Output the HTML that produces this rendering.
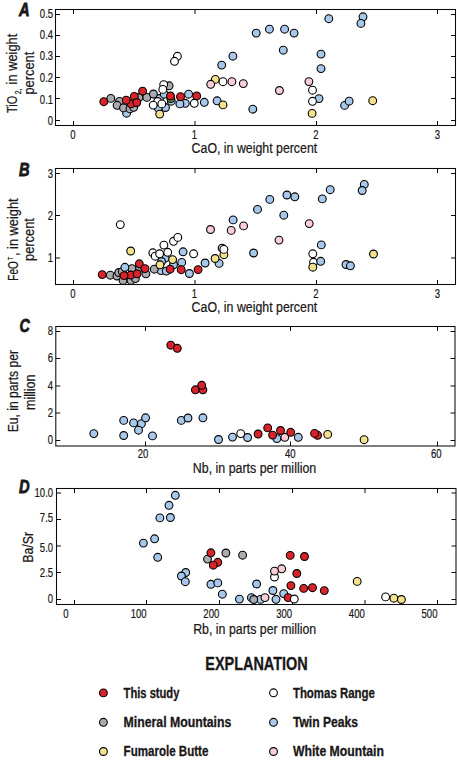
<!DOCTYPE html>
<html><head><meta charset="utf-8"><style>
html,body{margin:0;padding:0;background:#fff;width:457px;height:781px;overflow:hidden}
svg{display:block}
text{font-family:"Liberation Sans", sans-serif;fill:#1a1718;stroke:#1a1718;stroke-width:0.22px}
</style></head><body>
<svg width="457" height="781" viewBox="0 0 457 781">
<rect x="55.5" y="9.5" width="400.0" height="116.0" fill="none" stroke="#0a0a0a" stroke-width="1.05"/>
<path d="M55.5 14.5h4.5M455.5 14.5h-4.5M55.5 35.5h4.5M455.5 35.5h-4.5M55.5 56.5h4.5M455.5 56.5h-4.5M55.5 77.5h4.5M455.5 77.5h-4.5M55.5 98.5h4.5M455.5 98.5h-4.5M55.5 120.5h4.5M455.5 120.5h-4.5" stroke="#0a0a0a" stroke-width="1.0" fill="none"/>
<path d="M73.5 125.5v-4.5M73.5 9.5v4.5M195.0 125.5v-4.5M195.0 9.5v4.5M316.5 125.5v-4.5M316.5 9.5v4.5M437.5 125.5v-4.5M437.5 9.5v4.5" stroke="#0a0a0a" stroke-width="1.0" fill="none"/>
<circle cx="126.6" cy="113.2" r="3.9" fill="#a7c8ea" stroke="#000" stroke-width="1.1"/>
<circle cx="159.4" cy="98.5" r="3.9" fill="#a7c8ea" stroke="#000" stroke-width="1.1"/>
<circle cx="164.3" cy="94.2" r="3.9" fill="#a7c8ea" stroke="#000" stroke-width="1.1"/>
<circle cx="165.5" cy="107.5" r="3.9" fill="#a7c8ea" stroke="#000" stroke-width="1.1"/>
<circle cx="158.2" cy="108.1" r="3.9" fill="#a7c8ea" stroke="#000" stroke-width="1.1"/>
<circle cx="171.3" cy="101.2" r="3.9" fill="#a7c8ea" stroke="#000" stroke-width="1.1"/>
<circle cx="185.3" cy="103.3" r="3.9" fill="#a7c8ea" stroke="#000" stroke-width="1.1"/>
<circle cx="179.9" cy="103.9" r="3.9" fill="#a7c8ea" stroke="#000" stroke-width="1.1"/>
<circle cx="188.6" cy="94.2" r="3.9" fill="#a7c8ea" stroke="#000" stroke-width="1.1"/>
<circle cx="204.3" cy="102.3" r="3.9" fill="#a7c8ea" stroke="#000" stroke-width="1.1"/>
<circle cx="217.1" cy="100.8" r="3.9" fill="#a7c8ea" stroke="#000" stroke-width="1.1"/>
<circle cx="221.7" cy="65.1" r="3.9" fill="#a7c8ea" stroke="#000" stroke-width="1.1"/>
<circle cx="232.9" cy="56.2" r="3.9" fill="#a7c8ea" stroke="#000" stroke-width="1.1"/>
<circle cx="252.8" cy="109.2" r="3.9" fill="#a7c8ea" stroke="#000" stroke-width="1.1"/>
<circle cx="256.2" cy="33.1" r="3.9" fill="#a7c8ea" stroke="#000" stroke-width="1.1"/>
<circle cx="269.4" cy="29.2" r="3.9" fill="#a7c8ea" stroke="#000" stroke-width="1.1"/>
<circle cx="284.6" cy="29.2" r="3.9" fill="#a7c8ea" stroke="#000" stroke-width="1.1"/>
<circle cx="294.1" cy="33.1" r="3.9" fill="#a7c8ea" stroke="#000" stroke-width="1.1"/>
<circle cx="283.3" cy="50.2" r="3.9" fill="#a7c8ea" stroke="#000" stroke-width="1.1"/>
<circle cx="321" cy="54.1" r="3.9" fill="#a7c8ea" stroke="#000" stroke-width="1.1"/>
<circle cx="321" cy="68.6" r="3.9" fill="#a7c8ea" stroke="#000" stroke-width="1.1"/>
<circle cx="328.8" cy="18.7" r="3.9" fill="#a7c8ea" stroke="#000" stroke-width="1.1"/>
<circle cx="363" cy="16.8" r="3.9" fill="#a7c8ea" stroke="#000" stroke-width="1.1"/>
<circle cx="360.9" cy="23.4" r="3.9" fill="#a7c8ea" stroke="#000" stroke-width="1.1"/>
<circle cx="319" cy="98.6" r="3.9" fill="#a7c8ea" stroke="#000" stroke-width="1.1"/>
<circle cx="344.6" cy="105.4" r="3.9" fill="#a7c8ea" stroke="#000" stroke-width="1.1"/>
<circle cx="349.1" cy="101.2" r="3.9" fill="#a7c8ea" stroke="#000" stroke-width="1.1"/>
<circle cx="170.8" cy="98.5" r="3.9" fill="#6aa84f" stroke="#000" stroke-width="1.1"/>
<circle cx="110.8" cy="98.4" r="3.9" fill="#a9abb0" stroke="#000" stroke-width="1.1"/>
<circle cx="119.5" cy="101.4" r="3.9" fill="#a9abb0" stroke="#000" stroke-width="1.1"/>
<circle cx="117.1" cy="105.3" r="3.9" fill="#a9abb0" stroke="#000" stroke-width="1.1"/>
<circle cx="123.5" cy="107.9" r="3.9" fill="#a9abb0" stroke="#000" stroke-width="1.1"/>
<circle cx="130.0" cy="108.9" r="3.9" fill="#a9abb0" stroke="#000" stroke-width="1.1"/>
<circle cx="133.7" cy="107.3" r="3.9" fill="#a9abb0" stroke="#000" stroke-width="1.1"/>
<circle cx="138.9" cy="97.5" r="3.9" fill="#a9abb0" stroke="#000" stroke-width="1.1"/>
<circle cx="146.8" cy="97.4" r="3.9" fill="#a9abb0" stroke="#000" stroke-width="1.1"/>
<circle cx="153.4" cy="94.0" r="3.9" fill="#a9abb0" stroke="#000" stroke-width="1.1"/>
<circle cx="169.1" cy="85.8" r="3.9" fill="#a9abb0" stroke="#000" stroke-width="1.1"/>
<circle cx="159.7" cy="114.1" r="3.9" fill="#f3e18b" stroke="#000" stroke-width="1.1"/>
<circle cx="215.3" cy="79.4" r="3.9" fill="#f3e18b" stroke="#000" stroke-width="1.1"/>
<circle cx="223" cy="104.9" r="3.9" fill="#f3e18b" stroke="#000" stroke-width="1.1"/>
<circle cx="312.1" cy="113.4" r="3.9" fill="#f3e18b" stroke="#000" stroke-width="1.1"/>
<circle cx="372.7" cy="100.7" r="3.9" fill="#f3e18b" stroke="#000" stroke-width="1.1"/>
<circle cx="210.7" cy="84.3" r="3.9" fill="#f8cdd7" stroke="#000" stroke-width="1.1"/>
<circle cx="231.9" cy="81.7" r="3.9" fill="#f8cdd7" stroke="#000" stroke-width="1.1"/>
<circle cx="243.3" cy="83.6" r="3.9" fill="#f8cdd7" stroke="#000" stroke-width="1.1"/>
<circle cx="279.4" cy="90.5" r="3.9" fill="#f8cdd7" stroke="#000" stroke-width="1.1"/>
<circle cx="308.9" cy="81.6" r="3.9" fill="#f8cdd7" stroke="#000" stroke-width="1.1"/>
<circle cx="103.8" cy="101.7" r="3.9" fill="#d9232b" stroke="#000" stroke-width="1.1"/>
<circle cx="131.2" cy="103.8" r="3.9" fill="#d9232b" stroke="#000" stroke-width="1.1"/>
<circle cx="126.2" cy="100.2" r="3.9" fill="#d9232b" stroke="#000" stroke-width="1.1"/>
<circle cx="134.3" cy="96.4" r="3.9" fill="#d9232b" stroke="#000" stroke-width="1.1"/>
<circle cx="142.6" cy="91.1" r="3.9" fill="#d9232b" stroke="#000" stroke-width="1.1"/>
<circle cx="136.8" cy="102.5" r="3.9" fill="#d9232b" stroke="#000" stroke-width="1.1"/>
<circle cx="170.5" cy="96" r="3.9" fill="#d9232b" stroke="#000" stroke-width="1.1"/>
<circle cx="180.5" cy="96.7" r="3.9" fill="#d9232b" stroke="#000" stroke-width="1.1"/>
<circle cx="196.7" cy="96" r="3.9" fill="#d9232b" stroke="#000" stroke-width="1.1"/>
<circle cx="177.4" cy="56.3" r="3.9" fill="#ffffff" stroke="#000" stroke-width="1.1"/>
<circle cx="174.5" cy="61.3" r="3.9" fill="#ffffff" stroke="#000" stroke-width="1.1"/>
<circle cx="163.7" cy="84.6" r="3.9" fill="#ffffff" stroke="#000" stroke-width="1.1"/>
<circle cx="162.8" cy="89.4" r="3.9" fill="#ffffff" stroke="#000" stroke-width="1.1"/>
<circle cx="157.6" cy="101.5" r="3.9" fill="#ffffff" stroke="#000" stroke-width="1.1"/>
<circle cx="153.2" cy="105.1" r="3.9" fill="#ffffff" stroke="#000" stroke-width="1.1"/>
<circle cx="161.8" cy="103.9" r="3.9" fill="#ffffff" stroke="#000" stroke-width="1.1"/>
<circle cx="194.3" cy="103.3" r="3.9" fill="#ffffff" stroke="#000" stroke-width="1.1"/>
<circle cx="223" cy="81.7" r="3.9" fill="#ffffff" stroke="#000" stroke-width="1.1"/>
<circle cx="312.5" cy="90.2" r="3.9" fill="#ffffff" stroke="#000" stroke-width="1.1"/>
<circle cx="312.5" cy="101.3" r="3.9" fill="#ffffff" stroke="#000" stroke-width="1.1"/>
<rect x="55.5" y="168.5" width="400.0" height="116.0" fill="none" stroke="#0a0a0a" stroke-width="1.05"/>
<path d="M55.5 173.5h4.5M455.5 173.5h-4.5M55.5 215.5h4.5M455.5 215.5h-4.5M55.5 258.0h4.5M455.5 258.0h-4.5" stroke="#0a0a0a" stroke-width="1.0" fill="none"/>
<path d="M73.5 284.5v-4.5M73.5 168.5v4.5M195.0 284.5v-4.5M195.0 168.5v4.5M316.5 284.5v-4.5M316.5 168.5v4.5M437.5 284.5v-4.5M437.5 168.5v4.5" stroke="#0a0a0a" stroke-width="1.0" fill="none"/>
<circle cx="313.5" cy="262.3" r="3.9" fill="#ffffff" stroke="#000" stroke-width="1.1"/>
<circle cx="165.3" cy="258.1" r="3.9" fill="#a7c8ea" stroke="#000" stroke-width="1.1"/>
<circle cx="161.5" cy="261.5" r="3.9" fill="#a7c8ea" stroke="#000" stroke-width="1.1"/>
<circle cx="161" cy="270.6" r="3.9" fill="#a7c8ea" stroke="#000" stroke-width="1.1"/>
<circle cx="173.5" cy="264.8" r="3.9" fill="#a7c8ea" stroke="#000" stroke-width="1.1"/>
<circle cx="166.3" cy="271.1" r="3.9" fill="#a7c8ea" stroke="#000" stroke-width="1.1"/>
<circle cx="181.7" cy="262.4" r="3.9" fill="#a7c8ea" stroke="#000" stroke-width="1.1"/>
<circle cx="183.1" cy="251.8" r="3.9" fill="#a7c8ea" stroke="#000" stroke-width="1.1"/>
<circle cx="189.4" cy="273.5" r="3.9" fill="#a7c8ea" stroke="#000" stroke-width="1.1"/>
<circle cx="205.1" cy="263" r="3.9" fill="#a7c8ea" stroke="#000" stroke-width="1.1"/>
<circle cx="219.1" cy="263.4" r="3.9" fill="#a7c8ea" stroke="#000" stroke-width="1.1"/>
<circle cx="222.1" cy="248.1" r="3.9" fill="#a7c8ea" stroke="#000" stroke-width="1.1"/>
<circle cx="233.1" cy="219.9" r="3.9" fill="#a7c8ea" stroke="#000" stroke-width="1.1"/>
<circle cx="257.5" cy="209.4" r="3.9" fill="#a7c8ea" stroke="#000" stroke-width="1.1"/>
<circle cx="269.8" cy="199.4" r="3.9" fill="#a7c8ea" stroke="#000" stroke-width="1.1"/>
<circle cx="286.9" cy="195" r="3.9" fill="#a7c8ea" stroke="#000" stroke-width="1.1"/>
<circle cx="294.8" cy="196.8" r="3.9" fill="#a7c8ea" stroke="#000" stroke-width="1.1"/>
<circle cx="283.8" cy="215.2" r="3.9" fill="#a7c8ea" stroke="#000" stroke-width="1.1"/>
<circle cx="253.6" cy="253" r="3.9" fill="#a7c8ea" stroke="#000" stroke-width="1.1"/>
<circle cx="330.2" cy="189.7" r="3.9" fill="#a7c8ea" stroke="#000" stroke-width="1.1"/>
<circle cx="322.3" cy="198.9" r="3.9" fill="#a7c8ea" stroke="#000" stroke-width="1.1"/>
<circle cx="364.3" cy="184.4" r="3.9" fill="#a7c8ea" stroke="#000" stroke-width="1.1"/>
<circle cx="362.2" cy="190.5" r="3.9" fill="#a7c8ea" stroke="#000" stroke-width="1.1"/>
<circle cx="321.3" cy="244.9" r="3.9" fill="#a7c8ea" stroke="#000" stroke-width="1.1"/>
<circle cx="320.7" cy="261.3" r="3.9" fill="#a7c8ea" stroke="#000" stroke-width="1.1"/>
<circle cx="346" cy="264.5" r="3.9" fill="#a7c8ea" stroke="#000" stroke-width="1.1"/>
<circle cx="350.4" cy="265.8" r="3.9" fill="#a7c8ea" stroke="#000" stroke-width="1.1"/>
<circle cx="110.3" cy="275.2" r="3.9" fill="#a9abb0" stroke="#000" stroke-width="1.1"/>
<circle cx="117" cy="276" r="3.9" fill="#a9abb0" stroke="#000" stroke-width="1.1"/>
<circle cx="118.8" cy="272.5" r="3.9" fill="#a9abb0" stroke="#000" stroke-width="1.1"/>
<circle cx="122.3" cy="271.6" r="3.9" fill="#a9abb0" stroke="#000" stroke-width="1.1"/>
<circle cx="123.1" cy="280.4" r="3.9" fill="#a9abb0" stroke="#000" stroke-width="1.1"/>
<circle cx="137.5" cy="270.0" r="3.9" fill="#a9abb0" stroke="#000" stroke-width="1.1"/>
<circle cx="131.9" cy="268.6" r="3.9" fill="#a9abb0" stroke="#000" stroke-width="1.1"/>
<circle cx="131" cy="280.4" r="3.9" fill="#a9abb0" stroke="#000" stroke-width="1.1"/>
<circle cx="135.4" cy="278.6" r="3.9" fill="#a9abb0" stroke="#000" stroke-width="1.1"/>
<circle cx="145.9" cy="273.8" r="3.9" fill="#a9abb0" stroke="#000" stroke-width="1.1"/>
<circle cx="154.3" cy="269.2" r="3.9" fill="#a9abb0" stroke="#000" stroke-width="1.1"/>
<circle cx="130.7" cy="251" r="3.9" fill="#f3e18b" stroke="#000" stroke-width="1.1"/>
<circle cx="160" cy="264.8" r="3.9" fill="#f3e18b" stroke="#000" stroke-width="1.1"/>
<circle cx="172.6" cy="259.6" r="3.9" fill="#f3e18b" stroke="#000" stroke-width="1.1"/>
<circle cx="215.1" cy="258.5" r="3.9" fill="#f3e18b" stroke="#000" stroke-width="1.1"/>
<circle cx="223.9" cy="254.7" r="3.9" fill="#f3e18b" stroke="#000" stroke-width="1.1"/>
<circle cx="312.8" cy="267.2" r="3.9" fill="#f3e18b" stroke="#000" stroke-width="1.1"/>
<circle cx="373.5" cy="254" r="3.9" fill="#f3e18b" stroke="#000" stroke-width="1.1"/>
<circle cx="210.5" cy="229.5" r="3.9" fill="#f8cdd7" stroke="#000" stroke-width="1.1"/>
<circle cx="231.2" cy="230.4" r="3.9" fill="#f8cdd7" stroke="#000" stroke-width="1.1"/>
<circle cx="243.6" cy="225.9" r="3.9" fill="#f8cdd7" stroke="#000" stroke-width="1.1"/>
<circle cx="279" cy="240.1" r="3.9" fill="#f8cdd7" stroke="#000" stroke-width="1.1"/>
<circle cx="309.2" cy="223.6" r="3.9" fill="#f8cdd7" stroke="#000" stroke-width="1.1"/>
<circle cx="102.2" cy="274.6" r="3.9" fill="#d9232b" stroke="#000" stroke-width="1.1"/>
<circle cx="130.8" cy="275.0" r="3.9" fill="#d9232b" stroke="#000" stroke-width="1.1"/>
<circle cx="124" cy="275.6" r="3.9" fill="#d9232b" stroke="#000" stroke-width="1.1"/>
<circle cx="137.1" cy="273.8" r="3.9" fill="#d9232b" stroke="#000" stroke-width="1.1"/>
<circle cx="139.3" cy="263.8" r="3.9" fill="#d9232b" stroke="#000" stroke-width="1.1"/>
<circle cx="145" cy="268.6" r="3.9" fill="#d9232b" stroke="#000" stroke-width="1.1"/>
<circle cx="170.1" cy="269.2" r="3.9" fill="#d9232b" stroke="#000" stroke-width="1.1"/>
<circle cx="181.2" cy="269.7" r="3.9" fill="#d9232b" stroke="#000" stroke-width="1.1"/>
<circle cx="198.1" cy="269.6" r="3.9" fill="#d9232b" stroke="#000" stroke-width="1.1"/>
<circle cx="120.3" cy="224.6" r="3.9" fill="#ffffff" stroke="#000" stroke-width="1.1"/>
<circle cx="152.8" cy="252.8" r="3.9" fill="#ffffff" stroke="#000" stroke-width="1.1"/>
<circle cx="155.2" cy="256.2" r="3.9" fill="#ffffff" stroke="#000" stroke-width="1.1"/>
<circle cx="159.6" cy="253.8" r="3.9" fill="#ffffff" stroke="#000" stroke-width="1.1"/>
<circle cx="163.9" cy="245.1" r="3.9" fill="#ffffff" stroke="#000" stroke-width="1.1"/>
<circle cx="167.7" cy="252.3" r="3.9" fill="#ffffff" stroke="#000" stroke-width="1.1"/>
<circle cx="173.5" cy="241.3" r="3.9" fill="#ffffff" stroke="#000" stroke-width="1.1"/>
<circle cx="177.8" cy="237.4" r="3.9" fill="#ffffff" stroke="#000" stroke-width="1.1"/>
<circle cx="193.6" cy="253.8" r="3.9" fill="#ffffff" stroke="#000" stroke-width="1.1"/>
<circle cx="223.9" cy="249.4" r="3.9" fill="#ffffff" stroke="#000" stroke-width="1.1"/>
<circle cx="312.8" cy="253.8" r="3.9" fill="#ffffff" stroke="#000" stroke-width="1.1"/>
<circle cx="124.9" cy="267.3" r="3.9" fill="#a7c8ea" stroke="#000" stroke-width="1.1"/>
<rect x="55.8" y="326.5" width="399.2" height="119.5" fill="none" stroke="#0a0a0a" stroke-width="1.05"/>
<path d="M55.8 331.5h4.5M455.0 331.5h-4.5M55.8 358.5h4.5M455.0 358.5h-4.5M55.8 386.0h4.5M455.0 386.0h-4.5M55.8 413.0h4.5M455.0 413.0h-4.5M55.8 440.5h4.5M455.0 440.5h-4.5" stroke="#0a0a0a" stroke-width="1.0" fill="none"/>
<path d="M145.5 446.0v-4.5M145.5 326.5v4.5M290.5 446.0v-4.5M290.5 326.5v4.5M437.5 446.0v-4.5M437.5 326.5v4.5" stroke="#0a0a0a" stroke-width="1.0" fill="none"/>
<circle cx="93.8" cy="433.6" r="3.9" fill="#a7c8ea" stroke="#000" stroke-width="1.1"/>
<circle cx="123.7" cy="420.4" r="3.9" fill="#a7c8ea" stroke="#000" stroke-width="1.1"/>
<circle cx="123.7" cy="435.5" r="3.9" fill="#a7c8ea" stroke="#000" stroke-width="1.1"/>
<circle cx="133.6" cy="422.9" r="3.9" fill="#a7c8ea" stroke="#000" stroke-width="1.1"/>
<circle cx="141.4" cy="423.7" r="3.9" fill="#a7c8ea" stroke="#000" stroke-width="1.1"/>
<circle cx="145.6" cy="417.8" r="3.9" fill="#a7c8ea" stroke="#000" stroke-width="1.1"/>
<circle cx="138.5" cy="430.2" r="3.9" fill="#a7c8ea" stroke="#000" stroke-width="1.1"/>
<circle cx="152.5" cy="435.9" r="3.9" fill="#a7c8ea" stroke="#000" stroke-width="1.1"/>
<circle cx="181.3" cy="420.4" r="3.9" fill="#a7c8ea" stroke="#000" stroke-width="1.1"/>
<circle cx="188" cy="418" r="3.9" fill="#a7c8ea" stroke="#000" stroke-width="1.1"/>
<circle cx="202.9" cy="417.8" r="3.9" fill="#a7c8ea" stroke="#000" stroke-width="1.1"/>
<circle cx="218.5" cy="439.5" r="3.9" fill="#a7c8ea" stroke="#000" stroke-width="1.1"/>
<circle cx="232.5" cy="437.1" r="3.9" fill="#a7c8ea" stroke="#000" stroke-width="1.1"/>
<circle cx="247.6" cy="437.5" r="3.9" fill="#a7c8ea" stroke="#000" stroke-width="1.1"/>
<circle cx="276.9" cy="438.6" r="3.9" fill="#a7c8ea" stroke="#000" stroke-width="1.1"/>
<circle cx="298.3" cy="437.3" r="3.9" fill="#a7c8ea" stroke="#000" stroke-width="1.1"/>
<circle cx="327.7" cy="434.4" r="3.9" fill="#f3e18b" stroke="#000" stroke-width="1.1"/>
<circle cx="364.1" cy="439.7" r="3.9" fill="#f3e18b" stroke="#000" stroke-width="1.1"/>
<circle cx="284.8" cy="437.3" r="3.9" fill="#f8cdd7" stroke="#000" stroke-width="1.1"/>
<circle cx="170.8" cy="345.2" r="3.9" fill="#d9232b" stroke="#000" stroke-width="1.1"/>
<circle cx="177.3" cy="348.3" r="3.9" fill="#d9232b" stroke="#000" stroke-width="1.1"/>
<circle cx="195.4" cy="389.8" r="3.9" fill="#d9232b" stroke="#000" stroke-width="1.1"/>
<circle cx="202.9" cy="389.8" r="3.9" fill="#d9232b" stroke="#000" stroke-width="1.1"/>
<circle cx="201.7" cy="385.3" r="3.9" fill="#d9232b" stroke="#000" stroke-width="1.1"/>
<circle cx="258.1" cy="434" r="3.9" fill="#d9232b" stroke="#000" stroke-width="1.1"/>
<circle cx="267.7" cy="427.9" r="3.9" fill="#d9232b" stroke="#000" stroke-width="1.1"/>
<circle cx="272.6" cy="435.1" r="3.9" fill="#d9232b" stroke="#000" stroke-width="1.1"/>
<circle cx="280.5" cy="430.5" r="3.9" fill="#d9232b" stroke="#000" stroke-width="1.1"/>
<circle cx="290.7" cy="432.3" r="3.9" fill="#d9232b" stroke="#000" stroke-width="1.1"/>
<circle cx="317.6" cy="435.3" r="3.9" fill="#d9232b" stroke="#000" stroke-width="1.1"/>
<circle cx="314.6" cy="433.4" r="3.9" fill="#d9232b" stroke="#000" stroke-width="1.1"/>
<circle cx="240.7" cy="433.6" r="3.9" fill="#ffffff" stroke="#000" stroke-width="1.1"/>
<rect x="56.5" y="488.5" width="399.5" height="116.0" fill="none" stroke="#0a0a0a" stroke-width="1.05"/>
<path d="M56.5 493.0h4.5M456.0 493.0h-4.5M56.5 519.5h4.5M456.0 519.5h-4.5M56.5 546.0h4.5M456.0 546.0h-4.5M56.5 572.5h4.5M456.0 572.5h-4.5M56.5 599.5h4.5M456.0 599.5h-4.5" stroke="#0a0a0a" stroke-width="1.0" fill="none"/>
<path d="M74.5 604.5v-4.5M74.5 488.5v4.5M146.5 604.5v-4.5M146.5 488.5v4.5M219.5 604.5v-4.5M219.5 488.5v4.5M292.5 604.5v-4.5M292.5 488.5v4.5M365.0 604.5v-4.5M365.0 488.5v4.5M437.5 604.5v-4.5M437.5 488.5v4.5" stroke="#0a0a0a" stroke-width="1.0" fill="none"/>
<circle cx="274.5" cy="577" r="3.9" fill="#ffffff" stroke="#000" stroke-width="1.1"/>
<circle cx="385.6" cy="596.9" r="3.9" fill="#ffffff" stroke="#000" stroke-width="1.1"/>
<circle cx="175.3" cy="495.3" r="3.9" fill="#a7c8ea" stroke="#000" stroke-width="1.1"/>
<circle cx="169" cy="505.3" r="3.9" fill="#a7c8ea" stroke="#000" stroke-width="1.1"/>
<circle cx="159.9" cy="517.9" r="3.9" fill="#a7c8ea" stroke="#000" stroke-width="1.1"/>
<circle cx="170.4" cy="517.5" r="3.9" fill="#a7c8ea" stroke="#000" stroke-width="1.1"/>
<circle cx="154.6" cy="538.8" r="3.9" fill="#a7c8ea" stroke="#000" stroke-width="1.1"/>
<circle cx="143.4" cy="543.1" r="3.9" fill="#a7c8ea" stroke="#000" stroke-width="1.1"/>
<circle cx="157.7" cy="557.3" r="3.9" fill="#a7c8ea" stroke="#000" stroke-width="1.1"/>
<circle cx="185.7" cy="572.5" r="3.9" fill="#a7c8ea" stroke="#000" stroke-width="1.1"/>
<circle cx="181.4" cy="576" r="3.9" fill="#a7c8ea" stroke="#000" stroke-width="1.1"/>
<circle cx="185.3" cy="581.7" r="3.9" fill="#a7c8ea" stroke="#000" stroke-width="1.1"/>
<circle cx="210.9" cy="584.3" r="3.9" fill="#a7c8ea" stroke="#000" stroke-width="1.1"/>
<circle cx="217.8" cy="582.9" r="3.9" fill="#a7c8ea" stroke="#000" stroke-width="1.1"/>
<circle cx="222.3" cy="594.2" r="3.9" fill="#a7c8ea" stroke="#000" stroke-width="1.1"/>
<circle cx="256.6" cy="584" r="3.9" fill="#a7c8ea" stroke="#000" stroke-width="1.1"/>
<circle cx="239.4" cy="599.1" r="3.9" fill="#a7c8ea" stroke="#000" stroke-width="1.1"/>
<circle cx="251.4" cy="597.7" r="3.9" fill="#a7c8ea" stroke="#000" stroke-width="1.1"/>
<circle cx="260.5" cy="599.4" r="3.9" fill="#a7c8ea" stroke="#000" stroke-width="1.1"/>
<circle cx="272.9" cy="590.5" r="3.9" fill="#a7c8ea" stroke="#000" stroke-width="1.1"/>
<circle cx="276" cy="599.3" r="3.9" fill="#a7c8ea" stroke="#000" stroke-width="1.1"/>
<circle cx="283.7" cy="593.6" r="3.9" fill="#a7c8ea" stroke="#000" stroke-width="1.1"/>
<circle cx="207.5" cy="559.1" r="3.9" fill="#a9abb0" stroke="#000" stroke-width="1.1"/>
<circle cx="225.9" cy="553" r="3.9" fill="#a9abb0" stroke="#000" stroke-width="1.1"/>
<circle cx="242.6" cy="555.2" r="3.9" fill="#a9abb0" stroke="#000" stroke-width="1.1"/>
<circle cx="253.7" cy="599.5" r="3.9" fill="#a9abb0" stroke="#000" stroke-width="1.1"/>
<circle cx="357.2" cy="581.4" r="3.9" fill="#f3e18b" stroke="#000" stroke-width="1.1"/>
<circle cx="393.9" cy="598.2" r="3.9" fill="#f3e18b" stroke="#000" stroke-width="1.1"/>
<circle cx="401.4" cy="599.5" r="3.9" fill="#f3e18b" stroke="#000" stroke-width="1.1"/>
<circle cx="281.7" cy="568.8" r="3.9" fill="#f8cdd7" stroke="#000" stroke-width="1.1"/>
<circle cx="274.5" cy="571.1" r="3.9" fill="#f8cdd7" stroke="#000" stroke-width="1.1"/>
<circle cx="265" cy="597.6" r="3.9" fill="#f8cdd7" stroke="#000" stroke-width="1.1"/>
<circle cx="210.9" cy="552.8" r="3.9" fill="#d9232b" stroke="#000" stroke-width="1.1"/>
<circle cx="217.8" cy="562.3" r="3.9" fill="#d9232b" stroke="#000" stroke-width="1.1"/>
<circle cx="213.3" cy="565.2" r="3.9" fill="#d9232b" stroke="#000" stroke-width="1.1"/>
<circle cx="290.2" cy="555.4" r="3.9" fill="#d9232b" stroke="#000" stroke-width="1.1"/>
<circle cx="304.5" cy="556.5" r="3.9" fill="#d9232b" stroke="#000" stroke-width="1.1"/>
<circle cx="296.8" cy="573.5" r="3.9" fill="#d9232b" stroke="#000" stroke-width="1.1"/>
<circle cx="290.9" cy="585.6" r="3.9" fill="#d9232b" stroke="#000" stroke-width="1.1"/>
<circle cx="303.7" cy="588.4" r="3.9" fill="#d9232b" stroke="#000" stroke-width="1.1"/>
<circle cx="312.5" cy="587.7" r="3.9" fill="#d9232b" stroke="#000" stroke-width="1.1"/>
<circle cx="324.3" cy="590.6" r="3.9" fill="#d9232b" stroke="#000" stroke-width="1.1"/>
<circle cx="288.1" cy="597.6" r="3.9" fill="#d9232b" stroke="#000" stroke-width="1.1"/>
<circle cx="294.3" cy="599" r="3.9" fill="#ffffff" stroke="#000" stroke-width="1.1"/>
<text x="19.1" y="15.9" font-size="17.5" textLength="10.6" lengthAdjust="spacingAndGlyphs" font-weight="bold" font-style="italic" style="stroke-width:0.8px">A</text>
<text x="53.1" y="17.799999999999997" font-size="12.4" textLength="13.27" lengthAdjust="spacingAndGlyphs" text-anchor="end">0.5</text>
<text x="53.1" y="39.2" font-size="12.4" textLength="13.27" lengthAdjust="spacingAndGlyphs" text-anchor="end">0.4</text>
<text x="53.1" y="60.2" font-size="12.4" textLength="13.27" lengthAdjust="spacingAndGlyphs" text-anchor="end">0.3</text>
<text x="53.1" y="82.3" font-size="12.4" textLength="13.27" lengthAdjust="spacingAndGlyphs" text-anchor="end">0.2</text>
<text x="53.1" y="103.5" font-size="12.4" textLength="13.27" lengthAdjust="spacingAndGlyphs" text-anchor="end">0.1</text>
<text x="53.1" y="124.8" font-size="12.4" textLength="5.31" lengthAdjust="spacingAndGlyphs" text-anchor="end">0</text>
<text x="72.8" y="138.5" font-size="12.4" textLength="5.31" lengthAdjust="spacingAndGlyphs" text-anchor="middle">0</text>
<text x="194.3" y="138.5" font-size="12.4" textLength="5.31" lengthAdjust="spacingAndGlyphs" text-anchor="middle">1</text>
<text x="316.0" y="138.5" font-size="12.4" textLength="5.31" lengthAdjust="spacingAndGlyphs" text-anchor="middle">2</text>
<text x="437.4" y="138.5" font-size="12.4" textLength="5.31" lengthAdjust="spacingAndGlyphs" text-anchor="middle">3</text>
<text x="191.6" y="153.1" font-size="14" textLength="125.6" lengthAdjust="spacingAndGlyphs">CaO, in weight percent</text>
<text x="19.1" y="175.5" font-size="17.5" textLength="10.6" lengthAdjust="spacingAndGlyphs" font-weight="bold" font-style="italic" style="stroke-width:0.8px">B</text>
<text x="53.1" y="177.6" font-size="12.4" textLength="5.31" lengthAdjust="spacingAndGlyphs" text-anchor="end">3</text>
<text x="53.1" y="219.6" font-size="12.4" textLength="5.31" lengthAdjust="spacingAndGlyphs" text-anchor="end">2</text>
<text x="53.1" y="261.8" font-size="12.4" textLength="5.31" lengthAdjust="spacingAndGlyphs" text-anchor="end">1</text>
<text x="72.8" y="298" font-size="12.4" textLength="5.31" lengthAdjust="spacingAndGlyphs" text-anchor="middle">0</text>
<text x="194.3" y="298" font-size="12.4" textLength="5.31" lengthAdjust="spacingAndGlyphs" text-anchor="middle">1</text>
<text x="316.0" y="298" font-size="12.4" textLength="5.31" lengthAdjust="spacingAndGlyphs" text-anchor="middle">2</text>
<text x="437.4" y="298" font-size="12.4" textLength="5.31" lengthAdjust="spacingAndGlyphs" text-anchor="middle">3</text>
<text x="191.6" y="312.3" font-size="14" textLength="125.6" lengthAdjust="spacingAndGlyphs">CaO, in weight percent</text>
<text x="19.6" y="331.5" font-size="17.5" textLength="10.3" lengthAdjust="spacingAndGlyphs" font-weight="bold" font-style="italic" style="stroke-width:0.8px">C</text>
<text x="53.1" y="335.40000000000003" font-size="12.4" textLength="5.31" lengthAdjust="spacingAndGlyphs" text-anchor="end">8</text>
<text x="53.1" y="362.40000000000003" font-size="12.4" textLength="5.31" lengthAdjust="spacingAndGlyphs" text-anchor="end">6</text>
<text x="53.1" y="390.0" font-size="12.4" textLength="5.31" lengthAdjust="spacingAndGlyphs" text-anchor="end">4</text>
<text x="53.1" y="416.70000000000005" font-size="12.4" textLength="5.31" lengthAdjust="spacingAndGlyphs" text-anchor="end">2</text>
<text x="53.1" y="444.0" font-size="12.4" textLength="5.31" lengthAdjust="spacingAndGlyphs" text-anchor="end">0</text>
<text x="143.0" y="458.4" font-size="12.4" textLength="10.62" lengthAdjust="spacingAndGlyphs" text-anchor="middle">20</text>
<text x="290.2" y="458.4" font-size="12.4" textLength="10.62" lengthAdjust="spacingAndGlyphs" text-anchor="middle">40</text>
<text x="436.3" y="458.4" font-size="12.4" textLength="10.62" lengthAdjust="spacingAndGlyphs" text-anchor="middle">60</text>
<text x="192.8" y="473.4" font-size="14" textLength="123.4" lengthAdjust="spacingAndGlyphs">Nb, in parts per million</text>
<text x="19.1" y="493.0" font-size="17.5" textLength="10.6" lengthAdjust="spacingAndGlyphs" font-weight="bold" font-style="italic" style="stroke-width:0.8px">D</text>
<text x="53.1" y="497.1" font-size="12.4" textLength="18.58" lengthAdjust="spacingAndGlyphs" text-anchor="end">10.0</text>
<text x="53.1" y="522.4" font-size="12.4" textLength="13.27" lengthAdjust="spacingAndGlyphs" text-anchor="end">7.5</text>
<text x="53.1" y="551.7" font-size="12.4" textLength="13.27" lengthAdjust="spacingAndGlyphs" text-anchor="end">5.0</text>
<text x="53.1" y="577.3000000000001" font-size="12.4" textLength="13.27" lengthAdjust="spacingAndGlyphs" text-anchor="end">2.5</text>
<text x="53.1" y="603.4" font-size="12.4" textLength="5.31" lengthAdjust="spacingAndGlyphs" text-anchor="end">0</text>
<text x="65.9" y="618" font-size="12.4" textLength="5.31" lengthAdjust="spacingAndGlyphs" text-anchor="middle">0</text>
<text x="138.6" y="618" font-size="12.4" textLength="15.93" lengthAdjust="spacingAndGlyphs" text-anchor="middle">100</text>
<text x="211.29999999999998" y="618" font-size="12.4" textLength="15.93" lengthAdjust="spacingAndGlyphs" text-anchor="middle">200</text>
<text x="284.09999999999997" y="618" font-size="12.4" textLength="15.93" lengthAdjust="spacingAndGlyphs" text-anchor="middle">300</text>
<text x="356.8" y="618" font-size="12.4" textLength="15.93" lengthAdjust="spacingAndGlyphs" text-anchor="middle">400</text>
<text x="429.5" y="618" font-size="12.4" textLength="15.93" lengthAdjust="spacingAndGlyphs" text-anchor="middle">500</text>
<text x="193.2" y="633.6" font-size="14" textLength="123.0" lengthAdjust="spacingAndGlyphs">Rb, in parts per million</text>
<text x="17.1" y="113.0" font-size="14" textLength="17.2" lengthAdjust="spacingAndGlyphs" transform="rotate(-90 17.1 113.0)">TiO</text>
<text x="21.3" y="94.2" font-size="8.5" textLength="5.6" lengthAdjust="spacingAndGlyphs" transform="rotate(-90 21.3 94.2)">2,</text>
<text x="17.1" y="84.4" font-size="14" textLength="50.7" lengthAdjust="spacingAndGlyphs" transform="rotate(-90 17.1 84.4)">in weight</text>
<text x="33.7" y="94.6" font-size="14" textLength="42.9" lengthAdjust="spacingAndGlyphs" transform="rotate(-90 33.7 94.6)">percent</text>
<text x="17.9" y="280.7" font-size="14" textLength="19.5" lengthAdjust="spacingAndGlyphs" transform="rotate(-90 17.9 280.7)">FeO</text>
<text x="13.0" y="260.3" font-size="8.0" textLength="3.6" lengthAdjust="spacingAndGlyphs" transform="rotate(-90 13.0 260.3)">T</text>
<text x="17.9" y="256.0" font-size="14" textLength="57.6" lengthAdjust="spacingAndGlyphs" transform="rotate(-90 17.9 256.0)">, in weight</text>
<text x="34.4" y="261.0" font-size="14" textLength="42.9" lengthAdjust="spacingAndGlyphs" transform="rotate(-90 34.4 261.0)">percent</text>
<text x="17.7" y="432.3" font-size="14" textLength="82.3" lengthAdjust="spacingAndGlyphs" transform="rotate(-90 17.7 432.3)">Eu, in parts per</text>
<text x="34.6" y="410.0" font-size="14" textLength="35.4" lengthAdjust="spacingAndGlyphs" transform="rotate(-90 34.6 410.0)">million</text>
<text x="33.1" y="562.8" font-size="14" textLength="31.0" lengthAdjust="spacingAndGlyphs" transform="rotate(-90 33.1 562.8)">Ba/Sr</text>
<text x="205.25" y="670.0" font-size="18.0" textLength="102.5" lengthAdjust="spacingAndGlyphs" font-weight="bold" style="stroke-width:0.3px">EXPLANATION</text>
<circle cx="103.4" cy="692.9" r="3.9" fill="#d9232b" stroke="#000" stroke-width="1.1"/>
<text x="123.6" y="697.6999999999999" font-size="14" textLength="55.8" lengthAdjust="spacingAndGlyphs" font-weight="bold" style="stroke-width:0.3px">This study</text>
<circle cx="103.4" cy="722.3" r="3.9" fill="#a9abb0" stroke="#000" stroke-width="1.1"/>
<text x="123.6" y="727.0999999999999" font-size="14" textLength="107.7" lengthAdjust="spacingAndGlyphs" font-weight="bold" style="stroke-width:0.3px">Mineral Mountains</text>
<circle cx="103.4" cy="751.5" r="3.9" fill="#f3e18b" stroke="#000" stroke-width="1.1"/>
<text x="123.6" y="756.3" font-size="14" textLength="84.8" lengthAdjust="spacingAndGlyphs" font-weight="bold" style="stroke-width:0.3px">Fumarole Butte</text>
<circle cx="273.5" cy="692.8" r="3.9" fill="#ffffff" stroke="#000" stroke-width="1.1"/>
<text x="292.9" y="697.5999999999999" font-size="14" textLength="82.0" lengthAdjust="spacingAndGlyphs" font-weight="bold" style="stroke-width:0.3px">Thomas Range</text>
<circle cx="273.5" cy="722.3" r="3.9" fill="#a7c8ea" stroke="#000" stroke-width="1.1"/>
<text x="292.9" y="727.0999999999999" font-size="14" textLength="65.1" lengthAdjust="spacingAndGlyphs" font-weight="bold" style="stroke-width:0.3px">Twin Peaks</text>
<circle cx="273.5" cy="751.5" r="3.9" fill="#f8cdd7" stroke="#000" stroke-width="1.1"/>
<text x="292.9" y="756.3" font-size="14" textLength="91.1" lengthAdjust="spacingAndGlyphs" font-weight="bold" style="stroke-width:0.3px">White Mountain</text>
</svg>
</body></html>
